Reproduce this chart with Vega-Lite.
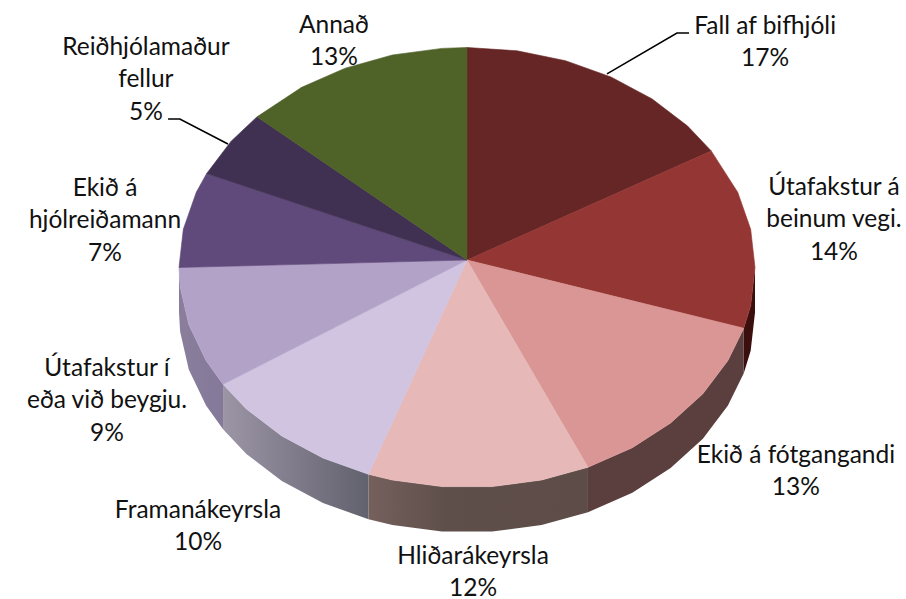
{
"$schema":"https://vega.github.io/schema/vega-lite/v6.json",
"width":906,"height":599,"padding":0,
"autosize":{"type":"none"},
"background":"#ffffff",
"config":{"view":{"stroke":null}},
"datasets":{
"faces":[
{"slice":"Fall af bifhjóli","i":0,"x":0,"y":0.034},{"slice":"Fall af bifhjóli","i":1,"x":0,"y":1},{"slice":"Fall af bifhjóli","i":2,"x":0.174,"y":0.985},{"slice":"Fall af bifhjóli","i":3,"x":0.342,"y":0.94},{"slice":"Fall af bifhjóli","i":4,"x":0.5,"y":0.866},{"slice":"Fall af bifhjóli","i":5,"x":0.643,"y":0.766},{"slice":"Fall af bifhjóli","i":6,"x":0.766,"y":0.643},{"slice":"Fall af bifhjóli","i":7,"x":0.848,"y":0.53},
{"slice":"Útafakstur á beinum vegi.","i":0,"x":0,"y":0.034},{"slice":"Útafakstur á beinum vegi.","i":1,"x":0.848,"y":0.53},{"slice":"Útafakstur á beinum vegi.","i":2,"x":0.94,"y":0.342},{"slice":"Útafakstur á beinum vegi.","i":3,"x":0.985,"y":0.174},{"slice":"Útafakstur á beinum vegi.","i":4,"x":1,"y":0},{"slice":"Útafakstur á beinum vegi.","i":5,"x":0.985,"y":-0.174},{"slice":"Útafakstur á beinum vegi.","i":6,"x":0.961,"y":-0.276},
{"slice":"Ekið á fótgangandi","i":0,"x":0,"y":0.034},{"slice":"Ekið á fótgangandi","i":1,"x":0.961,"y":-0.276},{"slice":"Ekið á fótgangandi","i":2,"x":0.906,"y":-0.423},{"slice":"Ekið á fótgangandi","i":3,"x":0.819,"y":-0.574},{"slice":"Ekið á fótgangandi","i":4,"x":0.707,"y":-0.707},{"slice":"Ekið á fótgangandi","i":5,"x":0.574,"y":-0.819},{"slice":"Ekið á fótgangandi","i":6,"x":0.42,"y":-0.908},
{"slice":"Hliðarákeyrsla","i":0,"x":0,"y":0.034},{"slice":"Hliðarákeyrsla","i":1,"x":0.42,"y":-0.908},{"slice":"Hliðarákeyrsla","i":2,"x":0.259,"y":-0.966},{"slice":"Hliðarákeyrsla","i":3,"x":0.087,"y":-0.996},{"slice":"Hliðarákeyrsla","i":4,"x":-0.087,"y":-0.996},{"slice":"Hliðarákeyrsla","i":5,"x":-0.259,"y":-0.966},{"slice":"Hliðarákeyrsla","i":6,"x":-0.342,"y":-0.94},
{"slice":"Framanákeyrsla","i":0,"x":0,"y":0.034},{"slice":"Framanákeyrsla","i":1,"x":-0.342,"y":-0.94},{"slice":"Framanákeyrsla","i":2,"x":-0.5,"y":-0.866},{"slice":"Framanákeyrsla","i":3,"x":-0.643,"y":-0.766},{"slice":"Framanákeyrsla","i":4,"x":-0.766,"y":-0.643},{"slice":"Framanákeyrsla","i":5,"x":-0.847,"y":-0.531},
{"slice":"Útafakstur í eða við beygju.","i":0,"x":0,"y":0.034},{"slice":"Útafakstur í eða við beygju.","i":1,"x":-0.847,"y":-0.531},{"slice":"Útafakstur í eða við beygju.","i":2,"x":-0.906,"y":-0.423},{"slice":"Útafakstur í eða við beygju.","i":3,"x":-0.966,"y":-0.259},{"slice":"Útafakstur í eða við beygju.","i":4,"x":-0.996,"y":-0.087},{"slice":"Útafakstur í eða við beygju.","i":5,"x":-1,"y":0},
{"slice":"Ekið á hjólreiðamann","i":0,"x":0,"y":0.034},{"slice":"Ekið á hjólreiðamann","i":1,"x":-1,"y":0},{"slice":"Ekið á hjólreiðamann","i":2,"x":-0.985,"y":0.174},{"slice":"Ekið á hjólreiðamann","i":3,"x":-0.94,"y":0.342},{"slice":"Ekið á hjólreiðamann","i":4,"x":-0.904,"y":0.427},
{"slice":"Reiðhjólamaður fellur","i":0,"x":0,"y":0.034},{"slice":"Reiðhjólamaður fellur","i":1,"x":-0.904,"y":0.427},{"slice":"Reiðhjólamaður fellur","i":2,"x":-0.819,"y":0.574},{"slice":"Reiðhjólamaður fellur","i":3,"x":-0.729,"y":0.685},
{"slice":"Annað","i":0,"x":0,"y":0.034},{"slice":"Annað","i":1,"x":-0.729,"y":0.685},{"slice":"Annað","i":2,"x":-0.574,"y":0.819},{"slice":"Annað","i":3,"x":-0.423,"y":0.906},{"slice":"Annað","i":4,"x":-0.259,"y":0.966},{"slice":"Annað","i":5,"x":-0.087,"y":0.996},{"slice":"Annað","i":6,"x":0,"y":1}
],
"walls":[
{"slice":"Útafakstur á beinum vegi.","x":1,"top":0,"bottom":-0.2045},{"slice":"Útafakstur á beinum vegi.","x":0.985,"top":-0.174,"bottom":-0.3785},{"slice":"Útafakstur á beinum vegi.","x":0.961,"top":-0.276,"bottom":-0.4805},
{"slice":"Ekið á fótgangandi","x":0.961,"top":-0.276,"bottom":-0.4805},{"slice":"Ekið á fótgangandi","x":0.906,"top":-0.423,"bottom":-0.6275},{"slice":"Ekið á fótgangandi","x":0.819,"top":-0.574,"bottom":-0.7785},{"slice":"Ekið á fótgangandi","x":0.707,"top":-0.707,"bottom":-0.9115},{"slice":"Ekið á fótgangandi","x":0.574,"top":-0.819,"bottom":-1.0235},{"slice":"Ekið á fótgangandi","x":0.42,"top":-0.908,"bottom":-1.1125},
{"slice":"Hliðarákeyrsla","x":0.42,"top":-0.908,"bottom":-1.1125},{"slice":"Hliðarákeyrsla","x":0.259,"top":-0.966,"bottom":-1.1705},{"slice":"Hliðarákeyrsla","x":0.087,"top":-0.996,"bottom":-1.2005},{"slice":"Hliðarákeyrsla","x":-0.087,"top":-0.996,"bottom":-1.2005},{"slice":"Hliðarákeyrsla","x":-0.259,"top":-0.966,"bottom":-1.1705},{"slice":"Hliðarákeyrsla","x":-0.342,"top":-0.94,"bottom":-1.1445},
{"slice":"Framanákeyrsla","x":-0.342,"top":-0.94,"bottom":-1.1445},{"slice":"Framanákeyrsla","x":-0.5,"top":-0.866,"bottom":-1.0705},{"slice":"Framanákeyrsla","x":-0.643,"top":-0.766,"bottom":-0.9705},{"slice":"Framanákeyrsla","x":-0.766,"top":-0.643,"bottom":-0.8475},{"slice":"Framanákeyrsla","x":-0.847,"top":-0.531,"bottom":-0.7355},
{"slice":"Útafakstur í eða við beygju.","x":-0.847,"top":-0.531,"bottom":-0.7355},{"slice":"Útafakstur í eða við beygju.","x":-0.906,"top":-0.423,"bottom":-0.6275},{"slice":"Útafakstur í eða við beygju.","x":-0.966,"top":-0.259,"bottom":-0.4635},{"slice":"Útafakstur í eða við beygju.","x":-0.996,"top":-0.087,"bottom":-0.2915},{"slice":"Útafakstur í eða við beygju.","x":-1,"top":0,"bottom":-0.2045}
],
"leaders":[
{"leader":"Fall af bifhjóli","i":0,"x":0.486,"y":0.88},{"leader":"Fall af bifhjóli","i":1,"x":0.729,"y":1.066},{"leader":"Fall af bifhjóli","i":2,"x":0.771,"y":1.066},
{"leader":"Reiðhjólamaður fellur","i":0,"x":-1.038,"y":0.675},{"leader":"Reiðhjólamaður fellur","i":1,"x":-0.997,"y":0.675},{"leader":"Reiðhjólamaður fellur","i":2,"x":-0.83,"y":0.561}
],
"labels":[
{"label":"Fall af bifhjóli\n17%","x":1.035,"y":1.093},
{"label":"Útafakstur á\nbeinum vegi.\n14%","x":1.274,"y":0.361},
{"label":"Ekið á fótgangandi\n13%","x":1.142,"y":-0.857},
{"label":"Hliðarákeyrsla\n12%","x":0.021,"y":-1.316},
{"label":"Framanákeyrsla\n10%","x":-0.934,"y":-1.107},
{"label":"Útafakstur í\neða við beygju.\n9%","x":-1.25,"y":-0.461},
{"label":"Ekið á\nhjólreiðamann\n7%","x":-1.257,"y":0.357},
{"label":"Reiðhjólamaður\nfellur\n5%","x":-1.115,"y":0.998},
{"label":"Annað\n13%","x":-0.462,"y":1.098}
]
},
"encoding":{
"x":{"field":"x","type":"quantitative","axis":null,"scale":{"domain":[-1.6215,1.5243],"nice":false,"zero":false}},
"y":{"type":"quantitative","axis":null,"scale":{"domain":[-1.5068,1.2159],"nice":false,"zero":false}}
},
"layer":[
{"data":{"name":"walls"},"transform":[{"filter":{"field":"slice","equal":"Útafakstur á beinum vegi."}}],
 "mark":{"type":"area","color":"#3c0f0f"},
 "encoding":{"y":{"field":"top","type":"quantitative"},"y2":{"field":"bottom"}}},
{"data":{"name":"walls"},"transform":[{"filter":{"field":"slice","equal":"Ekið á fótgangandi"}}],
 "mark":{"type":"area","color":"#5b3e3e"},
 "encoding":{"y":{"field":"top","type":"quantitative"},"y2":{"field":"bottom"}}},
{"data":{"name":"walls"},"transform":[{"filter":{"field":"slice","equal":"Hliðarákeyrsla"}}],
 "mark":{"type":"area","color":{"gradient":"linear","x1":0,"x2":1,"y1":0,"y2":0,"stops":[{"offset":0,"color":"#75605c"},{"offset":0.35,"color":"#5f4f4b"},{"offset":1,"color":"#5d4c48"}]}},
 "encoding":{"y":{"field":"top","type":"quantitative"},"y2":{"field":"bottom"}}},
{"data":{"name":"walls"},"transform":[{"filter":{"field":"slice","equal":"Framanákeyrsla"}}],
 "mark":{"type":"area","color":{"gradient":"linear","x1":0,"x2":1,"y1":0,"y2":0,"stops":[{"offset":0,"color":"#9c95a6"},{"offset":1,"color":"#62616e"}]}},
 "encoding":{"y":{"field":"top","type":"quantitative"},"y2":{"field":"bottom"}}},
{"data":{"name":"walls"},"transform":[{"filter":{"field":"slice","equal":"Útafakstur í eða við beygju."}}],
 "mark":{"type":"area","color":{"gradient":"linear","x1":0,"x2":1,"y1":0,"y2":0,"stops":[{"offset":0,"color":"#8a7e9c"},{"offset":1,"color":"#85799a"}]}},
 "encoding":{"y":{"field":"top","type":"quantitative"},"y2":{"field":"bottom"}}},
{"data":{"name":"faces"},
 "mark":{"type":"line","strokeWidth":0.6,"interpolate":"linear-closed"},
 "encoding":{
  "y":{"field":"y","type":"quantitative"},
  "order":{"field":"i","type":"quantitative"},
  "fill":{"field":"slice","type":"nominal","legend":null,"scale":{"domain":["Fall af bifhjóli","Útafakstur á beinum vegi.","Ekið á fótgangandi","Hliðarákeyrsla","Framanákeyrsla","Útafakstur í eða við beygju.","Ekið á hjólreiðamann","Reiðhjólamaður fellur","Annað"],"range":["#652625","#943634","#D99694","#E6B9B8","#D0C4E0","#B3A2C7","#604A7B","#403152","#4F6228"]}},
  "stroke":{"field":"slice","type":"nominal","legend":null,"scale":{"domain":["Fall af bifhjóli","Útafakstur á beinum vegi.","Ekið á fótgangandi","Hliðarákeyrsla","Framanákeyrsla","Útafakstur í eða við beygju.","Ekið á hjólreiðamann","Reiðhjólamaður fellur","Annað"],"range":["#652625","#943634","#D99694","#E6B9B8","#D0C4E0","#B3A2C7","#604A7B","#403152","#4F6228"]}}
 }},
{"data":{"name":"leaders"},
 "mark":{"type":"line","color":"#000000","strokeWidth":1.6},
 "encoding":{"y":{"field":"y","type":"quantitative"},"detail":{"field":"leader"},"order":{"field":"i","type":"quantitative"}}},
{"data":{"name":"labels"},
 "mark":{"type":"text","font":"Lato","fontSize":24.5,"lineHeight":32.3,"lineBreak":"\n","align":"center","baseline":"middle","color":"#111111"},
 "encoding":{"y":{"field":"y","type":"quantitative"},"text":{"field":"label","type":"nominal"}}}
]
}
